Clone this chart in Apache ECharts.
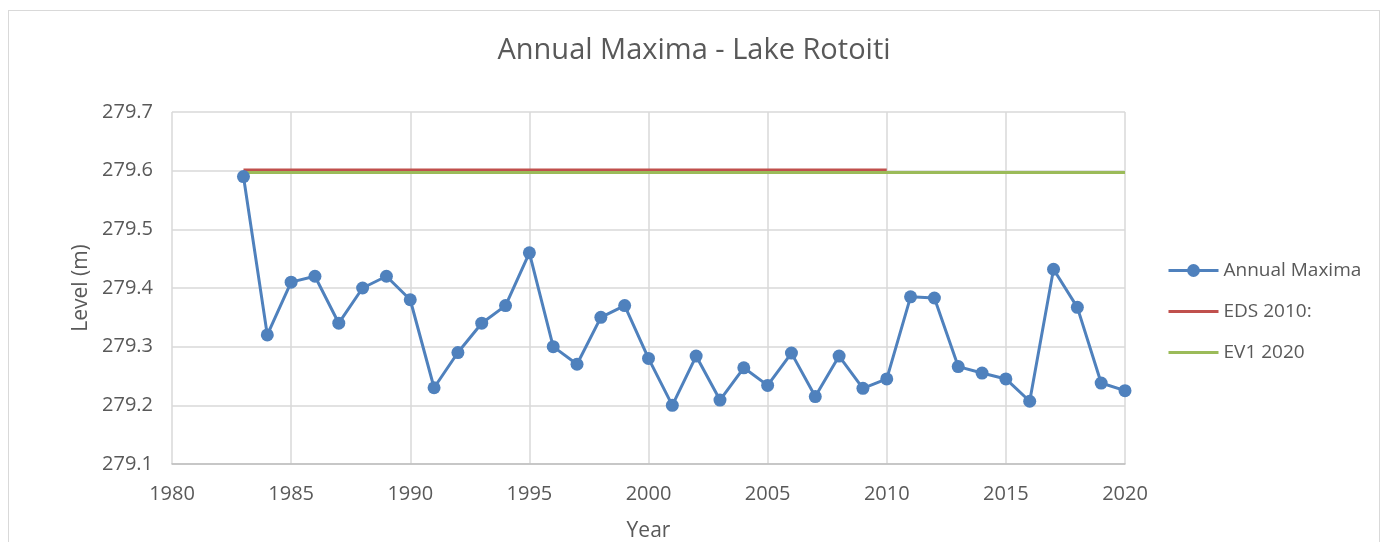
<!DOCTYPE html>
<html>
<head>
<meta charset="utf-8">
<script src="https://cdn.jsdelivr.net/npm/echarts@6/dist/echarts.min.js"></script>
<style>
  html, body { margin: 0; padding: 0; background: #fff; overflow: hidden; width: 1388px; height: 542px; }
  .frame {
    position: absolute; left: 8px; top: 10px; width: 1372px; height: 540px;
    border: 1px solid #d9d9d9; box-sizing: border-box;
  }
  .clip { position: absolute; left: 0; top: 0; width: 1388px; height: 542px; overflow: hidden; }
  #chart { position: absolute; left: 0; top: 0; width: 1388px; height: 542px; }
</style>
</head>
<body>
<div class="clip"><div class="frame"></div></div>
<div id="chart"></div>
<script>
// years + annual maximum lake level (m)
const years = [1983, 1984, 1985, 1986, 1987, 1988, 1989, 1990, 1991, 1992,
  1993, 1994, 1995, 1996, 1997, 1998, 1999, 2000, 2001, 2002,
  2003, 2004, 2005, 2006, 2007, 2008, 2009, 2010, 2011, 2012,
  2013, 2014, 2015, 2016, 2017, 2018, 2019, 2020];
const annualMaxima = [279.59, 279.32, 279.41, 279.42, 279.34, 279.40, 279.42, 279.38, 279.23, 279.29,
  279.34, 279.37, 279.46, 279.30, 279.27, 279.35, 279.37, 279.28, 279.20, 279.284,
  279.209, 279.264, 279.234, 279.289, 279.215, 279.284, 279.229, 279.245, 279.385, 279.383,
  279.266, 279.255, 279.245, 279.207, 279.432, 279.367, 279.238, 279.225];
// design levels: [start year, end year], level
const edsYears = [1983, 2010];
const edsLevel = 279.601;
const ev1Years = [1983, 2020];
const ev1Level = 279.597;

const font = '"Open Sans", "Noto Sans", sans-serif';
const chart = echarts.init(document.getElementById('chart'));

chart.setOption({
  animation: false,
  textStyle: { fontFamily: font },
  title: {
    text: 'Annual Maxima - Lake Rotoiti',
    left: 'center', top: 31,
    textStyle: { fontFamily: font, fontSize: 29, fontWeight: 'normal', color: '#595959' }
  },
  grid: { left: 172, right: 263, top: 112, bottom: 78, outerBoundsMode: 'none', containLabel: false },
  legend: {
    orient: 'vertical', left: 1162, top: 256, itemGap: 22,
    itemWidth: 50, itemHeight: 16,
    lineStyle: { width: 3 },
    textStyle: { fontFamily: font, fontSize: 19, color: '#595959' },
    data: [
      'Annual Maxima',
      { name: 'EDS 2010:', itemStyle: { opacity: 0 } },
      { name: 'EV1 2020', itemStyle: { opacity: 0 } }
    ]
  },
  xAxis: {
    type: 'value', min: 1980, max: 2020, interval: 5,
    name: 'Year', nameLocation: 'middle', nameGap: 57,
    nameTextStyle: { fontSize: 21, color: '#595959', fontFamily: font },
    axisLine: { show: true, lineStyle: { color: '#bfbfbf', width: 1.5 } },
    axisTick: { show: false },
    axisLabel: { fontSize: 20, color: '#595959', margin: 20, fontFamily: font, formatter: v => String(v) },
    splitLine: { show: true, lineStyle: { color: '#d9d9d9', width: 1.5 } }
  },
  yAxis: {
    type: 'value', min: 279.1, max: 279.7, interval: 0.1,
    name: 'Level (m)', nameLocation: 'middle', nameGap: 79, nameRotate: 90,
    nameTextStyle: { fontSize: 21, color: '#595959', fontFamily: font },
    axisLine: { show: false },
    axisTick: { show: false },
    axisLabel: { fontSize: 20, color: '#595959', margin: 19, fontFamily: font, formatter: v => v.toFixed(1) },
    splitLine: { show: true, lineStyle: { color: '#d9d9d9', width: 1.5 } }
  },
  series: [
    {
      name: 'Annual Maxima', type: 'line', symbol: 'circle', symbolSize: 13,
      lineStyle: { color: '#4f81bd', width: 3 }, itemStyle: { color: '#4f81bd' },
      data: years.map((y, i) => [y, annualMaxima[i]]), z: 4
    },
    {
      name: 'EDS 2010:', type: 'line', symbol: 'none',
      lineStyle: { color: '#c0504d', width: 3 }, itemStyle: { color: '#c0504d' },
      data: edsYears.map(y => [y, edsLevel]), z: 2
    },
    {
      name: 'EV1 2020', type: 'line', symbol: 'none',
      lineStyle: { color: '#9bbb59', width: 3 }, itemStyle: { color: '#9bbb59' },
      data: ev1Years.map(y => [y, ev1Level]), z: 3
    }
  ]
});
</script>
</body>
</html>
